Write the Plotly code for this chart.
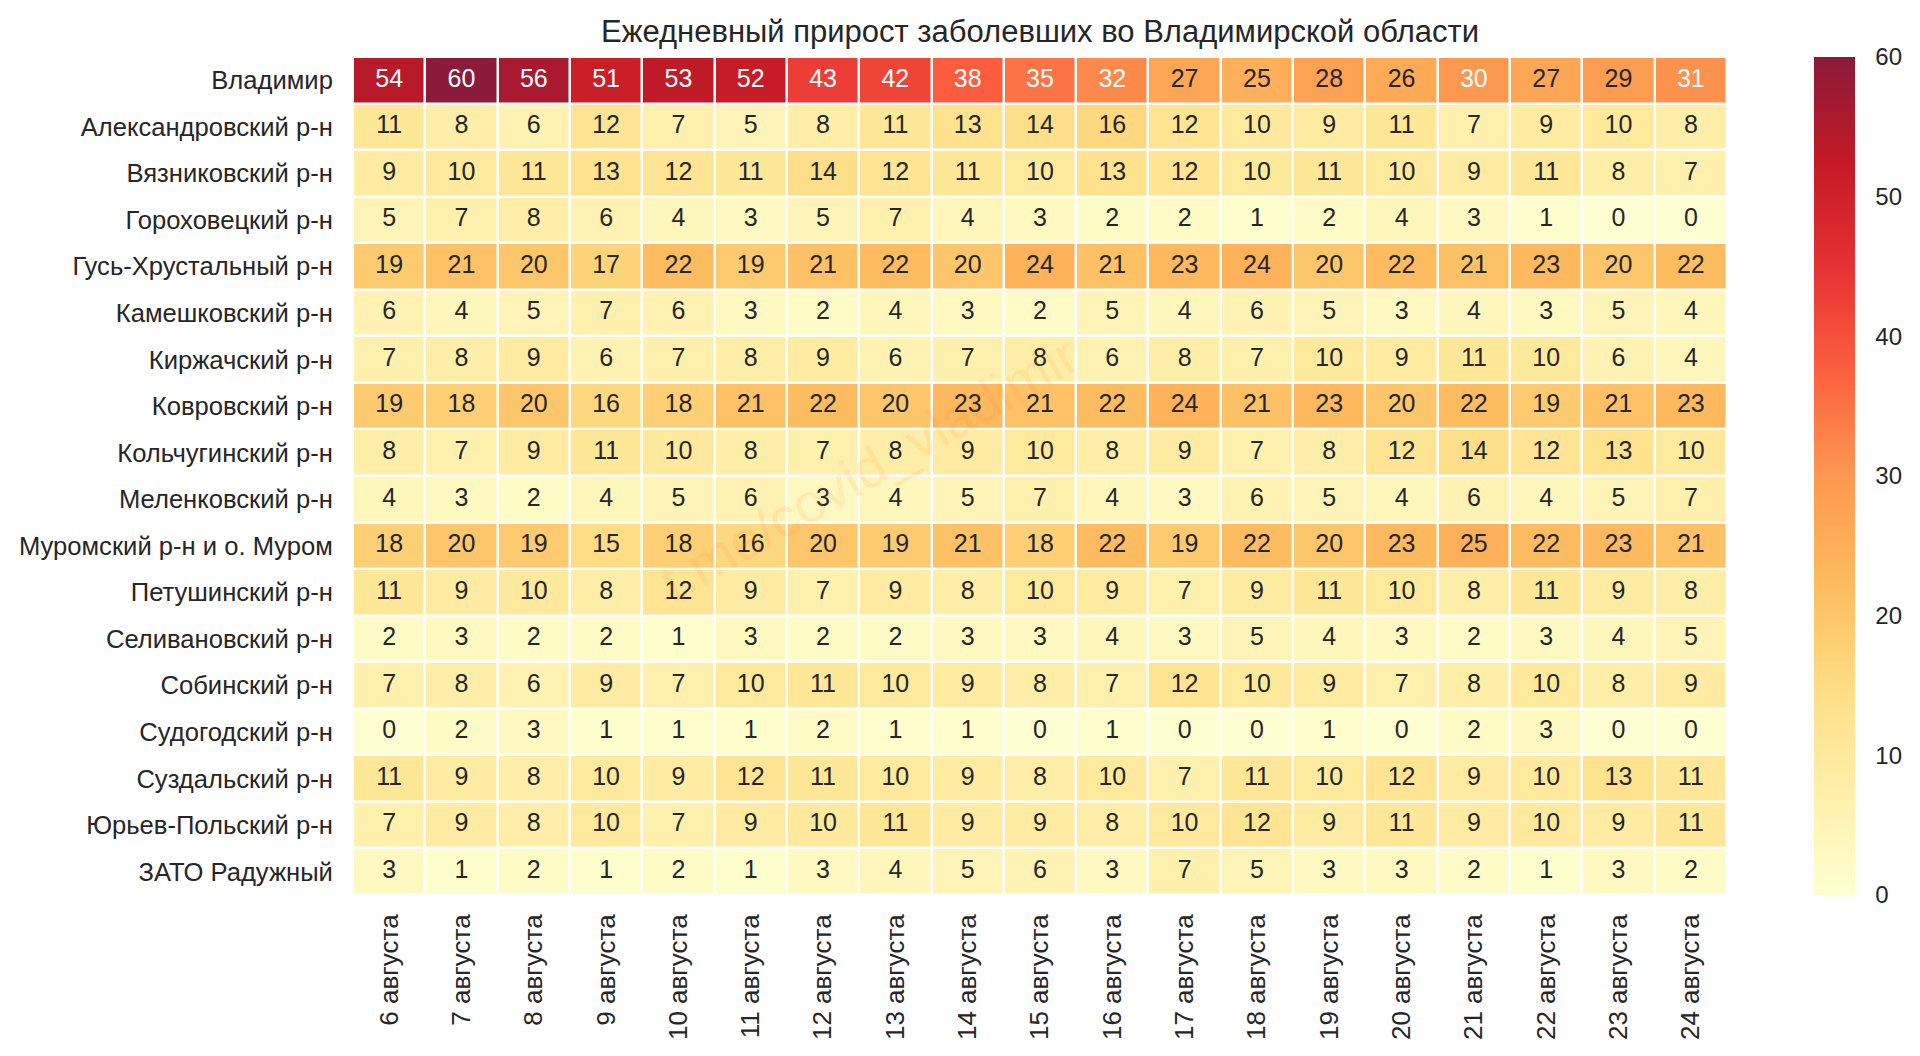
import plotly.graph_objects as go

districts = ["Владимир", "Александровский р-н", "Вязниковский р-н", "Гороховецкий р-н",
             "Гусь-Хрустальный р-н", "Камешковский р-н", "Киржачский р-н", "Ковровский р-н",
             "Кольчугинский р-н", "Меленковский р-н", "Муромский р-н и о. Муром",
             "Петушинский р-н", "Селивановский р-н", "Собинский р-н", "Судогодский р-н",
             "Суздальский р-н", "Юрьев-Польский р-н", "ЗАТО Радужный"]

days = ["6 августа", "7 августа", "8 августа", "9 августа", "10 августа", "11 августа",
        "12 августа", "13 августа", "14 августа", "15 августа", "16 августа", "17 августа",
        "18 августа", "19 августа", "20 августа", "21 августа", "22 августа", "23 августа",
        "24 августа"]

vladimir = [54, 60, 56, 51, 53, 52, 43, 42, 38, 35, 32, 27, 25, 28, 26, 30, 27, 29, 31]
aleksandrov = [11, 8, 6, 12, 7, 5, 8, 11, 13, 14, 16, 12, 10, 9, 11, 7, 9, 10, 8]
vyazniki = [9, 10, 11, 13, 12, 11, 14, 12, 11, 10, 13, 12, 10, 11, 10, 9, 11, 8, 7]
gorokhovets = [5, 7, 8, 6, 4, 3, 5, 7, 4, 3, 2, 2, 1, 2, 4, 3, 1, 0, 0]
gus = [19, 21, 20, 17, 22, 19, 21, 22, 20, 24, 21, 23, 24, 20, 22, 21, 23, 20, 22]
kameshkovo = [6, 4, 5, 7, 6, 3, 2, 4, 3, 2, 5, 4, 6, 5, 3, 4, 3, 5, 4]
kirzhach = [7, 8, 9, 6, 7, 8, 9, 6, 7, 8, 6, 8, 7, 10, 9, 11, 10, 6, 4]
kovrov = [19, 18, 20, 16, 18, 21, 22, 20, 23, 21, 22, 24, 21, 23, 20, 22, 19, 21, 23]
kolchugino = [8, 7, 9, 11, 10, 8, 7, 8, 9, 10, 8, 9, 7, 8, 12, 14, 12, 13, 10]
melenki = [4, 3, 2, 4, 5, 6, 3, 4, 5, 7, 4, 3, 6, 5, 4, 6, 4, 5, 7]
murom = [18, 20, 19, 15, 18, 16, 20, 19, 21, 18, 22, 19, 22, 20, 23, 25, 22, 23, 21]
petushki = [11, 9, 10, 8, 12, 9, 7, 9, 8, 10, 9, 7, 9, 11, 10, 8, 11, 9, 8]
selivanovo = [2, 3, 2, 2, 1, 3, 2, 2, 3, 3, 4, 3, 5, 4, 3, 2, 3, 4, 5]
sobinka = [7, 8, 6, 9, 7, 10, 11, 10, 9, 8, 7, 12, 10, 9, 7, 8, 10, 8, 9]
sudogda = [0, 2, 3, 1, 1, 1, 2, 1, 1, 0, 1, 0, 0, 1, 0, 2, 3, 0, 0]
suzdal = [11, 9, 8, 10, 9, 12, 11, 10, 9, 8, 10, 7, 11, 10, 12, 9, 10, 13, 11]
yuryev = [7, 9, 8, 10, 7, 9, 10, 11, 9, 9, 8, 10, 12, 9, 11, 9, 10, 9, 11]
raduzhny = [3, 1, 2, 1, 2, 1, 3, 4, 5, 6, 3, 7, 5, 3, 3, 2, 1, 3, 2]

z = [vladimir, aleksandrov, vyazniki, gorokhovets, gus, kameshkovo, kirzhach, kovrov,
     kolchugino, melenki, murom, petushki, selivanovo, sobinka, sudogda, suzdal, yuryev,
     raduzhny]

# YlOrRd at 0.9 alpha over white
YLORRD = ["#ffffd1", "#ffefaa", "#fedd84", "#feba5e", "#fd9850", "#fc603f", "#e63133",
          "#c31a26", "#8c1a3b"]
TEXT_DARK = "#262626"
FONT = "Liberation Sans"
WHITE_FROM = 30  # cells at or above this get white numbers

fig = go.Figure()

fig.add_trace(go.Heatmap(
    z=z, x=days, y=districts,
    colorscale=YLORRD, zmin=0, zmax=60,
    xgap=2.5, ygap=2.5,
    hoverinfo="skip",
    colorbar=dict(
        x=1.0633, xanchor="left", xpad=0,
        y=0.5, yanchor="middle", ypad=0, len=1.0,
        thickness=41, outlinewidth=0,
        tickmode="array", tickvals=[0, 10, 20, 30, 40, 50, 60],
        ticks="outside", ticklen=16, tickcolor="rgba(0,0,0,0)",
        tickfont=dict(family=FONT, size=24, color=TEXT_DARK),
    ),
))

# numbers in the cells, split in two traces because of the two text colours
for color, keep in ((TEXT_DARK, lambda v: v < WHITE_FROM), ("white", lambda v: v >= WHITE_FROM)):
    xs, ys, labels = [], [], []
    for name, row in zip(districts, z):
        for day, val in zip(days, row):
            if keep(val):
                xs.append(day)
                ys.append(name)
                labels.append(str(val))
    fig.add_trace(go.Scatter(
        x=xs, y=ys, text=labels, mode="text",
        textposition="middle center",
        textfont=dict(family=FONT, size=25, color=color),
        hoverinfo="skip", showlegend=False,
    ))

fig.add_annotation(
    text="t.me/covid_vladimir", xref="paper", yref="paper", x=0.376, y=0.509,
    showarrow=False, textangle=-30,
    font=dict(family=FONT, size=55, color="rgba(253,141,60,0.12)"),
)

fig.update_layout(
    width=1920, height=1056,
    paper_bgcolor="white", plot_bgcolor="white",
    margin=dict(l=353, r=193, t=57, b=161),
    showlegend=False,
    title=dict(
        text="Ежедневный прирост заболевших во Владимирской области",
        x=1040 / 1920, xanchor="center", y=1 - 31 / 1056, yanchor="middle",
        font=dict(family=FONT, size=31, color=TEXT_DARK),
    ),
    xaxis=dict(
        type="category", categoryorder="array", categoryarray=days,
        range=[-0.5, len(days) - 0.5],
        tickangle=-90, showgrid=False, zeroline=False, showline=False,
        ticks="outside", ticklen=8, tickcolor="rgba(0,0,0,0)",
        tickfont=dict(family=FONT, size=26, color=TEXT_DARK),
    ),
    yaxis=dict(
        type="category", categoryorder="array", categoryarray=districts,
        range=[len(districts) - 0.5, -0.5],
        showgrid=False, zeroline=False, showline=False,
        ticks="outside", ticklen=14, tickcolor="rgba(0,0,0,0)",
        tickfont=dict(family=FONT, size=25.6, color=TEXT_DARK),
    ),
)

fig.write_html("out.html", config={"displayModeBar": False},
               post_script="document.body.style.margin='0';")
